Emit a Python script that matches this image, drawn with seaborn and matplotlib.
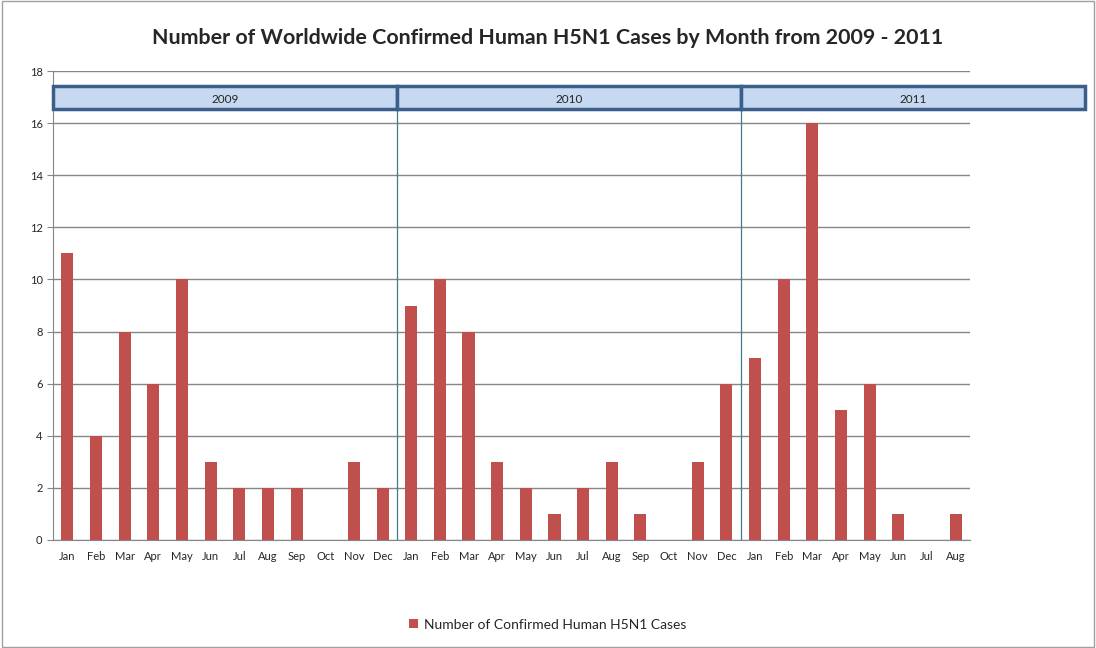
import numpy as np
import pandas as pd
import seaborn as sns
import matplotlib
matplotlib.use('Agg')
import matplotlib.pyplot as plt
from matplotlib.patches import Rectangle

months = ['Jan', 'Feb', 'Mar', 'Apr', 'May', 'Jun', 'Jul', 'Aug', 'Sep', 'Oct', 'Nov', 'Dec',
          'Jan', 'Feb', 'Mar', 'Apr', 'May', 'Jun', 'Jul', 'Aug', 'Sep', 'Oct', 'Nov', 'Dec',
          'Jan', 'Feb', 'Mar', 'Apr', 'May', 'Jun', 'Jul', 'Aug']
cases = [11, 4, 8, 6, 10, 3, 2, 2, 2, 0, 3, 2,
         9, 10, 8, 3, 2, 1, 2, 3, 1, 0, 3, 6,
         7, 10, 16, 5, 6, 1, 0, 1]
years = ['2009', '2010', '2011']
months_per_year = [12, 12, 12]

sns.set_style('white')
plt.rcParams['font.family'] = ['Lato', 'DejaVu Sans']

df = pd.DataFrame({'idx': range(len(cases)), 'cases': cases})

fig = plt.figure(figsize=(10.96, 6.48), dpi=100)
ax = fig.add_axes([53 / 1096, 108 / 648, 917 / 1096, 469 / 648])

sns.barplot(data=df, x='idx', y='cases', color='#C0504D', saturation=1, width=0.42,
            linewidth=0, label='Number of Confirmed Human H5N1 Cases', ax=ax)
if ax.get_legend() is not None:
    ax.get_legend().remove()

ax.set_xlim(-0.5, len(cases) - 0.5)
ax.set_ylim(0, 18)
ax.set_yticks(range(0, 19, 2))
ax.yaxis.grid(True, color='#868686', lw=1)
ax.set_axisbelow(True)
ax.set_xlabel('')
ax.set_ylabel('')
ax.set_xticks(range(len(cases)))
ax.set_xticklabels(months, fontsize=8)
ax.set_xticks(np.arange(-0.5, len(cases), 1), minor=True)
ax.tick_params(axis='x', which='major', length=0, pad=8)
ax.tick_params(axis='x', which='minor', length=4, color='#868686', direction='out')
ax.tick_params(axis='y', length=4, color='#868686', labelsize=8, direction='out', left=True)
for s in ['top', 'right']:
    ax.spines[s].set_visible(False)
for s in ['left', 'bottom']:
    ax.spines[s].set_color('#868686')

# year bands and separators
start = -0.5
for yr, n in zip(years, months_per_year):
    ax.add_patch(Rectangle((start, 16.54), n, 0.88, facecolor='#C6D9F1',
                           edgecolor='#3B5E8A', lw=2.5, clip_on=False, zorder=5))
    ax.text(start + n / 2, 16.9, yr, ha='center', va='center', fontsize=8.5, zorder=6)
    if start > 0:
        ax.plot([start, start], [0, 16.54], color='#3F7C8C', lw=0.9, zorder=4)
    start += n

fig.suptitle('Number of Worldwide Confirmed Human H5N1 Cases by Month from 2009 - 2011',
             y=0.957, fontsize=15.4, fontweight='bold')

fig.legend(handles=ax.patches[:1], labels=['Number of Confirmed Human H5N1 Cases'],
           loc='center', bbox_to_anchor=(0.5, 0.036), frameon=False, fontsize=10,
           handlelength=0.6, handleheight=0.6, handletextpad=0.5)

fig.add_artist(Rectangle((0.0015, 0.0015), 0.997, 0.997, transform=fig.transFigure,
                         fill=False, edgecolor='#A0A0A0', lw=1))

fig.savefig('out.png', dpi=100)
